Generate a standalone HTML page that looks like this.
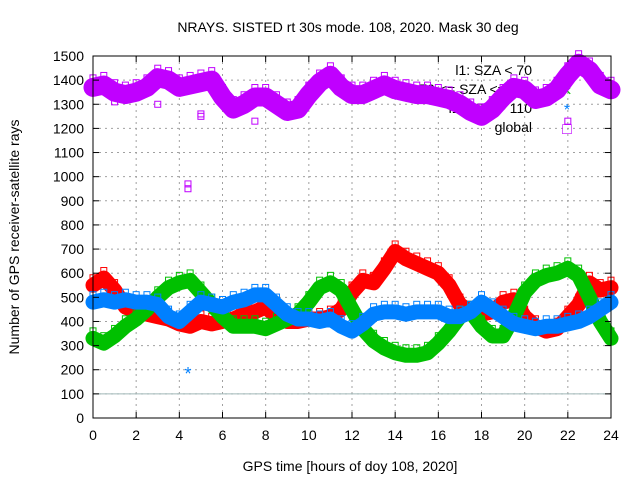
<!DOCTYPE html>
<html><head><meta charset="utf-8"><style>
body{margin:0;background:#fff}
svg{display:block;font-family:"Liberation Sans",sans-serif}
</style></head><body>
<svg id="c" width="640" height="480" xmlns="http://www.w3.org/2000/svg">
<text x="348" y="32" text-anchor="middle" font-size="14">NRAYS. SISTED rt 30s mode. 108, 2020. Mask 30 deg</text>
<text x="350" y="471" text-anchor="middle" font-size="14">GPS time [hours of doy 108, 2020]</text>
<text transform="translate(19,237) rotate(-90)" text-anchor="middle" font-size="14">Number of GPS receiver-satellite rays</text>
<g id="grid"></g>
<g id="legend"></g>
<g id="series"></g>
<g id="axes"></g>
</svg>
<script>
const hours=[0,0.5,1,1.5,2,2.5,3,3.5,4,4.5,5,5.5,6,6.5,7,7.5,8,8.5,9,9.5,10,10.5,11,11.5,12,12.5,13,13.5,14,14.5,15,15.5,16,16.5,17,17.5,18,18.5,19,19.5,20,20.5,21,21.5,22,22.5,23,23.5,24];
const red=[550,580,530,460,440,430,420,410,390,380,400,390,400,410,430,440,460,420,400,400,410,410,420,450,520,570,560,620,690,660,640,620,600,550,470,440,430,440,480,490,420,380,360,370,420,470,560,530,540];
const green=[330,310,340,380,410,450,500,540,560,570,520,470,420,380,380,380,370,390,410,430,480,540,560,530,450,370,320,290,270,260,260,270,310,360,420,440,380,340,340,420,520,570,590,600,620,590,500,400,330];
const blue=[480,490,480,490,480,480,470,420,400,440,480,470,460,480,490,510,510,470,430,410,410,400,410,380,360,390,430,440,440,430,440,440,440,420,420,440,480,450,420,390,380,370,380,380,390,400,420,450,480];
const globalS=[1370,1380,1350,1340,1350,1370,1410,1400,1370,1380,1390,1400,1330,1280,1300,1330,1330,1300,1270,1280,1340,1390,1420,1370,1340,1340,1360,1380,1360,1350,1340,1340,1330,1320,1300,1270,1250,1280,1330,1370,1360,1320,1330,1360,1420,1470,1440,1380,1360];
const outlierH=[1,3,4.4,4.4,5,5,7.5,22];
const outlierV=[1310,1300,970,950,1260,1250,1230,1230];
const blueOutH=[4.4];const blueOutV=[190];
const xTicks=[0,2,4,6,8,10,12,14,16,18,20,22,24];
const yTicks=[0,100,200,300,400,500,600,700,800,900,1000,1100,1200,1300,1400,1500];
const L=93,R=611,T=56,B=418;
const X=h=>L+h/24*(R-L), Y=v=>B-v/1500*(B-T);
const NS="http://www.w3.org/2000/svg";
function mk(p,t,a){const e=document.createElementNS(NS,t);for(const k in a)e.setAttribute(k,a[k]);p.appendChild(e);return e;}
const grid=document.getElementById('grid'),axes=document.getElementById('axes'),ser=document.getElementById('series'),leg=document.getElementById('legend');
xTicks.forEach(t=>{const x=X(t);
 if(t>0&&t<24){const g=mk(grid,'line',{x1:x,x2:x,y1:T,y2:B,stroke:'#a0a0a0','stroke-dasharray':'2,4'});}
 mk(axes,'line',{x1:x,x2:x,y1:B,y2:B-6,stroke:'#000'});mk(axes,'line',{x1:x,x2:x,y1:T,y2:T+6,stroke:'#000'});
 const tx=mk(axes,'text',{x:x,y:B+22,'text-anchor':'middle','font-size':'14'});tx.textContent=t;
 });
yTicks.forEach(t=>{const y=Y(t);
 if(t>0&&t<1500){const g=mk(grid,'line',{x1:L,x2:R,y1:y,y2:y,stroke:'#a0a0a0','stroke-dasharray':'2,4'});}
 mk(axes,'line',{x1:L,x2:L+6,y1:y,y2:y,stroke:'#000'});mk(axes,'line',{x1:R,x2:R-6,y1:y,y2:y,stroke:'#000'});
 const tx=mk(axes,'text',{x:84,y:y+5,'text-anchor':'end','font-size':'14'});tx.textContent=t;
 });
const ml=mk(grid,'line',{x1:L,x2:R,y1:Y(100),y2:Y(100),stroke:'#a0b8b8'});

const bx=mk(axes,'rect',{x:L,y:T,width:R-L,height:B-T,fill:'none',stroke:'#000'});

function series(vals,col,name,w){
 const g=mk(ser,'g',{});
 const pts=hours.map((h,i)=>X(h)+','+Y(vals[i])).join(' ');
 mk(g,'polyline',{points:pts,fill:'none',stroke:col,'stroke-width':w,'stroke-linejoin':'round','stroke-linecap':'round'});
 hours.forEach((h,i)=>{const p=mk(g,'rect',{x:X(h)-3,y:Y(vals[i])-w/2-3,width:6,height:6,fill:'none',stroke:col,'stroke-width':1});
  });
}
series(red,'#ff0000','series-sza-lt-70',15);
series(green,'#00c000','series-sza-70-110',15);
series(blue,'#0080ff','series-sza-gt-110',15);
series(globalS,'#c000ff','series-global',19);
outlierH.forEach((h,i)=>{const r=mk(ser,'rect',{x:X(h)-3,y:Y(outlierV[i])-3,width:6,height:6,fill:'none',stroke:'#c000ff'});
 });
blueOutH.forEach((h,i)=>{const r=mk(ser,'text',{x:X(h),y:Y(blueOutV[i])+8,'text-anchor':'middle','font-size':'18',fill:'#0080ff'});r.textContent='*';
 });
const labels=['l1: SZA < 70','70 <= SZA <= 110','l1: SZA > 110','global'];
const cols=['#ff0000','#00c000','#0080ff','#c000ff'];const syms=['+','×','*','□'];
labels.forEach((s,i)=>{const y=75+i*19;
 const t=mk(leg,'text',{x:532,y:y,'text-anchor':'end','font-size':'14'});t.textContent=s;
 
 const m=mk(leg,'text',{x:567,y:y+2,'text-anchor':'middle','font-size':'16',fill:cols[i]});m.textContent=syms[i];
 });
</script>
</body></html>
